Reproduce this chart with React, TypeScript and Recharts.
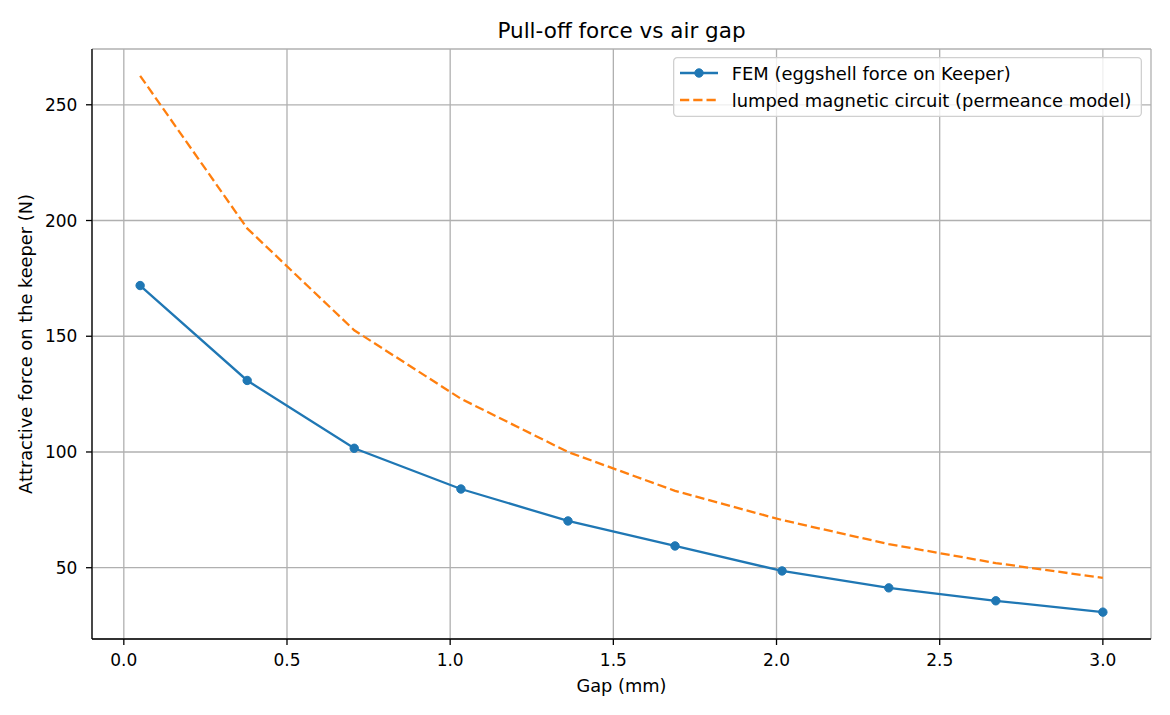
import React from 'react';
import { LineChart, Line, XAxis, YAxis, CartesianGrid, Legend } from 'recharts';

const gapMm = [0.05, 0.378, 0.706, 1.033, 1.361, 1.689, 2.017, 2.344, 2.672, 3.0];
const femForce = [171.9, 130.9, 101.6, 84.0, 70.2, 59.4, 48.6, 41.3, 35.7, 30.8];
const lumpedForce = [262.5, 196.6, 152.6, 123.0, 100.0, 83.2, 70.6, 60.2, 52.0, 45.6];
const xTicks = [0, 0.5, 1.0, 1.5, 2.0, 2.5, 3.0];
const yTicks = [50, 100, 150, 200, 250];
const seriesNames = ['FEM (eggshell force on Keeper)', 'lumped magnetic circuit (permeance model)'];
const titleText = 'Pull-off force vs air gap';
const xLabelText = 'Gap (mm)';
const yLabelText = 'Attractive force on the keeper (N)';

const data = gapMm.map((g, i) => ({ gap: g, fem: femForce[i], lumped: lumpedForce[i] }));

const FONT = '"DejaVu Sans", sans-serif';
const BLUE = '#1f77b4';
const ORANGE = '#ff7f0e';
const X_DOMAIN: [number, number] = [-0.0975, 3.1475];
const Y_DOMAIN: [number, number] = [19.2, 274.1];

const LegendBox = () => (
  <svg width={469} height={60} style={{ display: 'block' }}>
    <rect x={0.65} y={0.65} width={467.7} height={58.7} rx={3.5} ry={3.5} fill="#ffffff" fillOpacity={0.8} stroke="#d0d0d0" strokeWidth={1.3} />
    <line x1={7} y1={16} x2={45} y2={16} stroke={BLUE} strokeWidth={2.3} />
    <circle cx={26} cy={16} r={4.2} fill={BLUE} stroke={BLUE} strokeWidth={1} />
    <text x={58.7} y={16} dominantBaseline="central" fontFamily={FONT} fontSize={17.9} fill="#000">{seriesNames[0]}</text>
    <line x1={7} y1={43} x2={45} y2={43} stroke={ORANGE} strokeWidth={2.3} strokeDasharray="9.25 4" />
    <text x={58.7} y={43} dominantBaseline="central" fontFamily={FONT} fontSize={17.9} fill="#000">{seriesNames[1]}</text>
  </svg>
);

export default function App() {
  const tickStyle = { fontFamily: FONT, fontSize: 17, fill: '#000' };
  return (
    <div style={{ position: 'absolute', left: 0, top: 0, width: 1170, height: 715, background: '#fff' }}>
      <LineChart width={1170} height={715} data={data} margin={{ top: 49, right: 19, bottom: 0, left: 0 }}>
        <CartesianGrid stroke="#b0b0b0" strokeWidth={1.3} />
        <XAxis
          dataKey="gap"
          type="number"
          domain={X_DOMAIN}
          ticks={xTicks}
          allowDataOverflow
          tickFormatter={(v: number) => v.toFixed(1)}
          height={76}
          tickSize={6}
          tickMargin={9}
          tick={tickStyle}
          axisLine={{ stroke: '#000', strokeWidth: 1.3 }}
          tickLine={{ stroke: '#000', strokeWidth: 1.3 }}
        />
        <XAxis
          xAxisId="top"
          orientation="top"
          type="number"
          dataKey="gap"
          domain={X_DOMAIN}
          allowDataOverflow
          height={0}
          tick={false}
          tickLine={false}
          axisLine={{ stroke: '#000', strokeWidth: 1.3 }}
        />
        <YAxis
          type="number"
          domain={Y_DOMAIN}
          ticks={yTicks}
          allowDataOverflow
          width={92}
          tickSize={6}
          tickMargin={8.6}
          tick={tickStyle}
          axisLine={{ stroke: '#000', strokeWidth: 1.3 }}
          tickLine={{ stroke: '#000', strokeWidth: 1.3 }}
        />
        <YAxis
          yAxisId="right"
          orientation="right"
          type="number"
          domain={Y_DOMAIN}
          allowDataOverflow
          width={0}
          tick={false}
          tickLine={false}
          axisLine={{ stroke: '#000', strokeWidth: 1.3 }}
        />
        <Legend
          layout="vertical"
          align="center"
          verticalAlign="middle"
          content={() => <LegendBox />}
          wrapperStyle={{ position: 'absolute', left: 673, top: 57, width: 469, height: 60, margin: 0, padding: 0 }}
        />
        <Line
          type="linear"
          dataKey="fem"
          name={seriesNames[0]}
          stroke={BLUE}
          strokeWidth={2.3}
          dot={{ r: 4.2, fill: BLUE, stroke: BLUE, strokeWidth: 1 }}
          activeDot={false}
          isAnimationActive={false}
        />
        <Line
          type="linear"
          dataKey="lumped"
          name={seriesNames[1]}
          stroke={ORANGE}
          strokeWidth={2.3}
          strokeDasharray="9.25 4"
          dot={false}
          activeDot={false}
          isAnimationActive={false}
        />
      </LineChart>
      <svg width={1170} height={715} style={{ position: 'absolute', left: 0, top: 0, pointerEvents: 'none' }}>
        <text x={621.5} y={38.3} textAnchor="middle" fontFamily={FONT} fontSize={21.5} fill="#000">{titleText}</text>
        <text x={621.5} y={691.7} textAnchor="middle" fontFamily={FONT} fontSize={17.8} fill="#000">{xLabelText}</text>
        <text x={31.8} y={344} textAnchor="middle" transform="rotate(-90 31.8 344)" fontFamily={FONT} fontSize={17.8} fill="#000">{yLabelText}</text>
      </svg>
    </div>
  );
}
